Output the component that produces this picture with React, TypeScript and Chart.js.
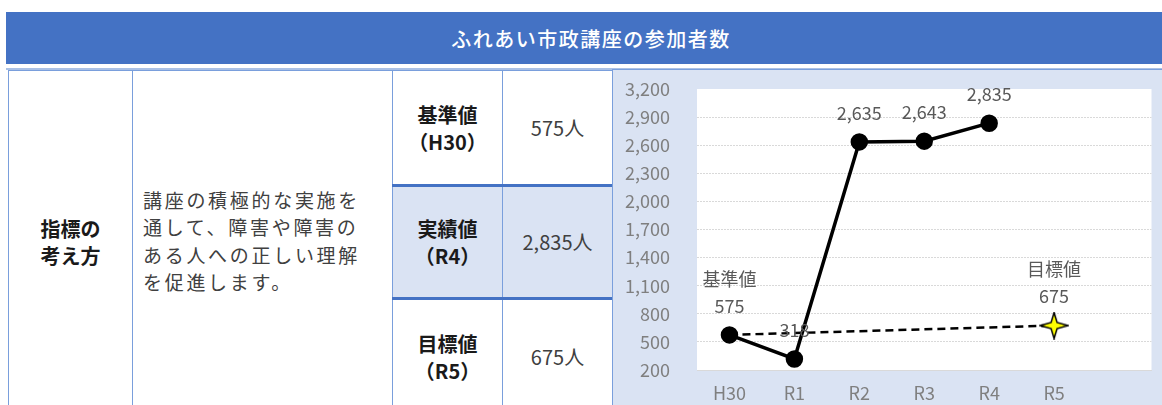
import React, { useEffect, useRef } from "react";
import { Chart, registerables } from "chart.js";

Chart.register(...registerables);

// ---- data ----
const categories = ["H30", "R1", "R2", "R3", "R4", "R5", ""];
const actualValues: (number | null)[] = [575, 318, 2635, 2643, 2835, null, null];
const targetValues: (number | null)[] = [575, null, null, null, null, 675, null];
const showTargetLabel = [false, false, false, false, false, true, false];
const pointCaptions = ["基準値", "", "", "", "", "目標値", ""];
const yMin = 200;
const yMax = 3200;
const yStep = 300;

const titleText = "ふれあい市政講座の参加者数";
const indicatorHead = ["指標の", "考え方"];
const indicatorLines = [
  "講座の積極的な実施を",
  "通して、障害や障害の",
  "ある人への正しい理解",
  "を促進します。",
];
const rowHeads = [
  ["基準値", "（H30）"],
  ["実績値", "（R4）"],
  ["目標値", "（R5）"],
];
const rowValues = ["575人", "2,835人", "675人"];

const FONT = '"Noto Sans CJK JP", "Noto Sans", sans-serif';
const fmt = (v: number) => Number(v).toLocaleString("en-US");

function makeStar(): HTMLCanvasElement {
  const c = document.createElement("canvas");
  c.width = 30;
  c.height = 28;
  const g = c.getContext("2d")!;
  const cx = 15, cy = 14;
  g.beginPath();
  g.moveTo(cx, 1);
  g.lineTo(cx + 3, cy - 3);
  g.lineTo(29, cy);
  g.lineTo(cx + 3, cy + 3);
  g.lineTo(cx, 27);
  g.lineTo(cx - 3, cy + 3);
  g.lineTo(1, cy);
  g.lineTo(cx - 3, cy - 3);
  g.closePath();
  g.fillStyle = "#FFFF00";
  g.fill();
  g.lineWidth = 1.5;
  g.strokeStyle = "#000";
  g.stroke();
  return c;
}

const plotBg = {
  id: "plotBg",
  beforeDraw(chart: any) {
    const { ctx, chartArea: a } = chart;
    ctx.save();
    ctx.fillStyle = "#FFFFFF";
    ctx.fillRect(a.left, a.top, a.right - a.left, a.bottom - a.top);
    ctx.restore();
  },
};

const valueLabels = {
  id: "valueLabels",
  afterDatasetsDraw(chart: any) {
    const { ctx } = chart;
    const m0 = chart.getDatasetMeta(0);
    const m1 = chart.getDatasetMeta(1);
    ctx.save();
    ctx.font = `18px ${FONT}`;
    ctx.fillStyle = "#595959";
    ctx.textAlign = "center";
    ctx.textBaseline = "middle";
    categories.forEach((_, i) => {
      let pt: any = null;
      let val: number | null = null;
      if (actualValues[i] != null) {
        pt = m0.data[i];
        val = actualValues[i];
      } else if (showTargetLabel[i] && targetValues[i] != null) {
        pt = m1.data[i];
        val = targetValues[i];
      }
      if (!pt || val == null) return;
      ctx.fillText(fmt(val), pt.x, pt.y - 29);
      if (pointCaptions[i]) ctx.fillText(pointCaptions[i], pt.x, pt.y - 56);
    });
    ctx.restore();
  },
};

function LineChart() {
  const ref = useRef<HTMLCanvasElement | null>(null);
  useEffect(() => {
    if (!ref.current) return;
    const star = makeStar();
    const chart = new Chart(ref.current, {
      type: "line",
      data: {
        labels: categories,
        datasets: [
          {
            data: actualValues,
            borderColor: "#000000",
            borderWidth: 3.5,
            pointRadius: 7,
            pointBackgroundColor: "#000000",
            pointBorderColor: "#000000",
            tension: 0,
            spanGaps: false,
            clip: false as any,
            order: 2,
          },
          {
            data: targetValues,
            borderColor: "#000000",
            borderWidth: 2.5,
            borderDash: [8, 5],
            pointRadius: targetValues.map((v, i) => (i === 5 ? 12 : 0)),
            pointStyle: star as any,
            spanGaps: true,
            tension: 0,
            clip: false as any,
            order: 1,
          },
        ],
      },
      options: {
        responsive: false,
        animation: false,
        layout: { padding: { top: 19, right: 5, left: 0, bottom: 0 } },
        plugins: { legend: { display: false }, tooltip: { enabled: false } },
        scales: {
          x: {
            offset: true,
            grid: { display: false, drawTicks: false },
            border: { display: true, color: "#D9D9D9", width: 1 },
            ticks: { color: "#7F7F7F", font: { size: 18, family: FONT }, padding: 12, maxRotation: 0 },
            afterFit: (s: any) => {
              s.height = 35;
              s.paddingLeft = 0;
              s.paddingRight = 0;
            },
          },
          y: {
            min: yMin,
            max: yMax,
            grid: {
              drawTicks: false,
              color: (c: any) => (c.tick && (c.tick.value === yMax || c.tick.value === yMin) ? "rgba(0,0,0,0)" : "#D9D9D9"),
              lineWidth: 1,
            },
            border: { display: false, dash: [2, 1] },
            ticks: {
              stepSize: yStep,
              color: "#7F7F7F",
              font: { size: 18, family: FONT },
              padding: 27,
              callback: (v: any) => fmt(v),
            },
            afterFit: (s: any) => {
              s.width = 84;
              s.paddingTop = 0;
              s.paddingBottom = 0;
            },
          },
        },
      },
      plugins: [plotBg, valueLabels],
    } as any);
    return () => chart.destroy();
  }, []);
  return <canvas ref={ref} width={549} height={335} style={{ display: "block" }} />;
}

const LINE = "#7A9FDC";

function Cell(props: { left: number; top: number; width: number; height: number; bg?: string; children?: any; style?: any }) {
  return (
    <div
      style={{
        position: "absolute",
        left: props.left,
        top: props.top,
        width: props.width,
        height: props.height,
        boxSizing: "border-box",
        border: `1.5px solid ${LINE}`,
        background: props.bg || "#FFFFFF",
        display: "flex",
        alignItems: "center",
        justifyContent: "center",
        ...props.style,
      }}
    >
      {props.children}
    </div>
  );
}

export default function App() {
  const rowTops = [70, 185, 298];
  const rowHeights = [115, 113, 117];
  return (
    <div
      style={{
        position: "fixed",
        left: 0,
        top: 0,
        width: 1162,
        height: 405,
        overflow: "hidden",
        background: "#FFFFFF",
        fontFamily: FONT,
      }}
    >
      <div
        style={{
          position: "absolute",
          left: 6,
          top: 12,
          width: 1156,
          height: 52,
          background: "#4472C4",
          color: "#FFFFFF",
          display: "flex",
          alignItems: "center",
          justifyContent: "center",
          paddingLeft: 14,
          boxSizing: "border-box",
          fontSize: 20,
          fontWeight: 500,
          letterSpacing: 1.5,
        }}
      >
        {titleText}
      </div>
      <div style={{ position: "absolute", left: 6, top: 68, width: 1156, height: 1.5, background: "#A9C0E6" }} />

      <Cell left={8} top={70} width={125} height={345}>
        <div style={{ fontSize: 20, fontWeight: 700, lineHeight: "27px", color: "#1A1A1A", textAlign: "center", marginTop: -2 }}>
          {indicatorHead.map((t, i) => (
            <div key={i}>{t}</div>
          ))}
        </div>
      </Cell>
      <Cell left={132} top={70} width={261} height={345} style={{ justifyContent: "flex-start", paddingLeft: 10 }}>
        <div style={{ fontSize: 19, lineHeight: "27.3px", color: "#404040", letterSpacing: 2.7, whiteSpace: "nowrap", marginTop: -4 }}>
          {indicatorLines.map((t, i) => (
            <div key={i}>{t}</div>
          ))}
        </div>
      </Cell>
      {rowHeads.map((h, r) => (
        <Cell key={"h" + r} left={392} top={rowTops[r]} width={111} height={rowHeights[r]} bg={r === 1 ? "#DAE3F3" : "#FFFFFF"}>
          <div style={{ fontSize: 20, fontWeight: 700, lineHeight: "27px", color: "#1A1A1A", textAlign: "center" }}>
            {h.map((t, i) => (
              <div key={i}>{t}</div>
            ))}
          </div>
        </Cell>
      ))}
      {rowValues.map((v, r) => (
        <Cell key={"v" + r} left={502} top={rowTops[r]} width={111} height={rowHeights[r]} bg={r === 1 ? "#DAE3F3" : "#FFFFFF"}>
          <div style={{ fontSize: 20, color: "#404040" }}>{v}</div>
        </Cell>
      ))}
      <div style={{ position: "absolute", left: 392, top: 184, width: 221, height: 2.5, background: "#4472C4" }} />
      <div style={{ position: "absolute", left: 392, top: 297, width: 221, height: 2.5, background: "#4472C4" }} />

      <div
        style={{
          position: "absolute",
          left: 612,
          top: 69,
          width: 560,
          height: 345,
          boxSizing: "border-box",
          borderLeft: `1.5px solid ${LINE}`,
          borderTop: `1.5px solid ${LINE}`,
          background: "#DAE3F3",
        }}
      />
      <div style={{ position: "absolute", left: 613, top: 70 }}>
        <LineChart />
      </div>
    </div>
  );
}
